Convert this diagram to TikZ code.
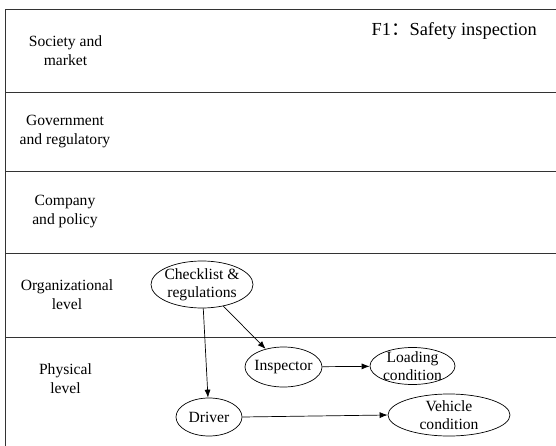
\documentclass[tikz,border=0pt]{standalone}
\usepackage{fontspec}
\setmainfont{Liberation Serif}
\newfontfamily\cjk{Noto Sans CJK SC}
\usetikzlibrary{arrows.meta,shapes.geometric}
\begin{document}
\begin{tikzpicture}[x=1pt,y=-1pt,
  rule/.style={draw=black!80, line width=0.8pt},
  lvl/.style={align=center, inner sep=0pt, font=\fontsize{15.6}{19}\selectfont},
  ell/.style={draw, ellipse, line width=0.7pt, inner sep=0pt},
  etext/.style={align=center, inner sep=0pt, font=\fontsize{15.6}{18}\selectfont},
  arr/.style={-{Latex[length=8pt,width=6pt]}, line width=0.7pt}]
\useasboundingbox (0,0) rectangle (556,446);

% swim-lane frame
\draw[rule] (556,9.3) -- (5.3,9.3) -- (5.3,446);
\foreach \yy in {92,171,253,337}
  \draw[rule] (5.3,\yy) -- (556,\yy);

% level names
\node[lvl] (l1) at (65.5,50.5) {Society and\\market};
\node[lvl] (l2) at (65,131.5) {Government\\and regulatory};
\node[lvl] (l3) at (65,212) {Company\\and policy};
\node[lvl] (l4) at (67,295) {Organizational\\level};
\node[lvl] (l5) at (65.5,379) {Physical\\level};

% title
\node[anchor=west, inner sep=0pt, font=\fontsize{18.4}{22}\selectfont] (title)
  at (371.5,31.5) {F1{\cjk ：}Safety inspection};

% actors and conditions
\node[ell, minimum width=102pt, minimum height=47pt,
  label={[etext]center:Checklist \&\\regulations}] (chk) at (202,284.5) {};
\node[ell, minimum width=77pt, minimum height=40pt,
  label={[etext]center:Inspector}] (insp) at (283.5,367) {};
\node[ell, minimum width=85pt, minimum height=37pt,
  label={[etext]center:Loading\\condition}] (load) at (412.5,366) {};
\node[ell, minimum width=66pt, minimum height=38pt,
  label={[etext]center:Driver}] (drv) at (209,417) {};
\node[ell, minimum width=122pt, minimum height=42pt,
  label={[etext]center:Vehicle\\condition}] (veh) at (449,415) {};

% influences
\draw[arr] (chk) -- (drv);
\draw[arr] (chk) -- (insp);
\draw[arr] (insp) -- (load);
\draw[arr] (drv.east) -- (veh.west);
\end{tikzpicture}
\end{document}
